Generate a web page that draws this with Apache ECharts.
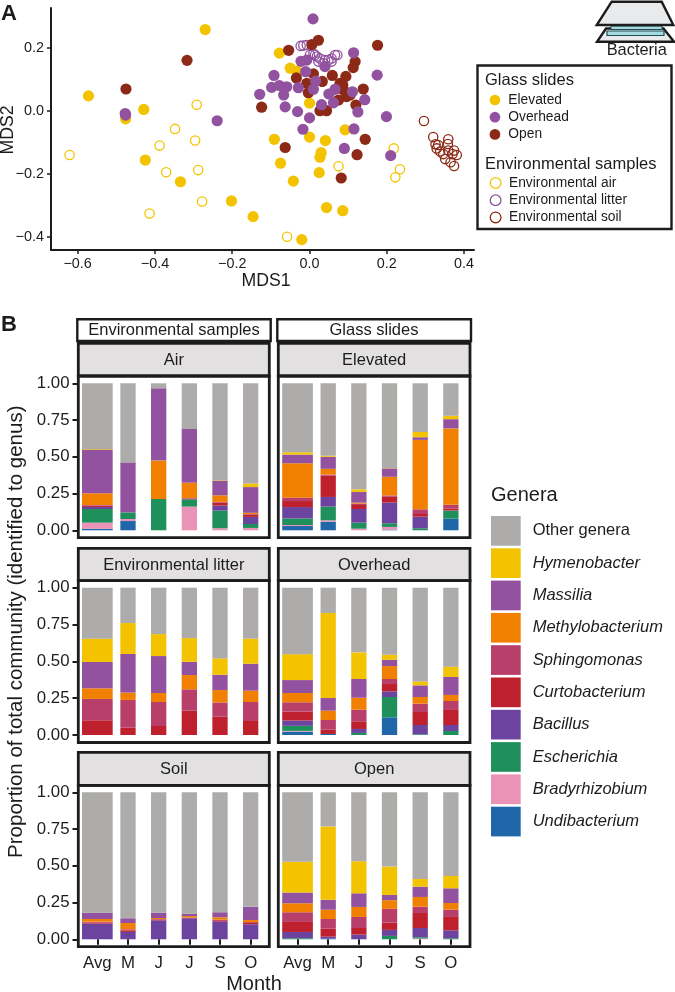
<!DOCTYPE html>
<html><head><meta charset="utf-8">
<style>html,body{margin:0;padding:0;background:#fff}#c{width:675px;height:992px}</style>
<script src="https://cdn.jsdelivr.net/npm/echarts@6/dist/echarts.min.js"></script>
</head><body><div id="c"></div>
<script>
// ---- Panel A values (MDS1, MDS2) ----
const elevated = [[-0.270,0.259],[-0.572,0.048],[-0.429,0.005],[-0.476,-0.025],[-0.425,-0.156],[-0.334,-0.225],[-0.202,-0.286],[-0.146,-0.336],[-0.020,-0.409],[0.044,-0.307],[0.086,-0.317],[-0.078,0.184],[-0.050,0.136],[-0.033,0.127],[0.000,0.025],[0.092,-0.060],[-0.091,-0.090],[0.000,-0.083],[0.041,-0.094],[0.030,-0.132],[0.027,-0.147],[-0.075,-0.166],[0.025,-0.196],[-0.042,-0.223]];
const overhead = [[0.009,0.293],[0.114,0.185],[0.175,0.114],[-0.092,0.113],[-0.022,0.158],[-0.007,0.162],[-0.010,0.125],[0.040,0.141],[-0.098,0.075],[-0.078,0.081],[-0.059,0.077],[-0.067,0.051],[-0.129,0.053],[-0.029,0.074],[0.016,0.095],[0.010,0.069],[0.066,0.069],[0.050,0.054],[0.062,0.026],[0.031,0.020],[0.111,0.061],[0.143,0.036],[0.125,-0.003],[-0.063,0.013],[-0.031,-0.002],[0.000,-0.022],[-0.017,-0.058],[0.115,-0.057],[0.199,-0.018],[-0.477,-0.008],[-0.476,-0.013],[-0.239,-0.031],[0.090,-0.119],[0.210,-0.142]];
const open = [[-0.317,0.161],[-0.475,0.070],[-0.124,0.012],[-0.054,0.193],[0.006,0.211],[0.023,0.225],[0.176,0.209],[0.118,0.157],[0.113,0.138],[-0.034,0.105],[0.010,0.118],[-0.007,0.088],[0.033,0.094],[0.059,0.113],[0.094,0.110],[0.079,0.088],[0.088,0.067],[0.139,0.070],[-0.003,0.058],[0.096,0.046],[0.075,0.035],[0.120,0.019],[0.027,0.001],[0.044,0.001],[0.144,-0.090],[-0.063,-0.116],[0.123,-0.139],[0.082,-0.213],[0.086,0.083],[0.105,0.051]];
const envAir = [[-0.292,0.020],[-0.348,-0.057],[-0.296,-0.094],[-0.388,-0.110],[-0.621,-0.140],[-0.371,-0.195],[-0.288,-0.188],[-0.278,-0.288],[-0.414,-0.326],[-0.058,-0.400],[0.218,-0.119],[0.075,-0.176],[0.234,-0.185],[0.222,-0.211]];
const envLitter = [[-0.016,0.208],[-0.007,0.210],[-0.023,0.207],[0.010,0.183],[0.019,0.173],[0.027,0.167],[0.040,0.162],[0.049,0.162],[0.057,0.167],[0.066,0.178],[0.072,0.178],[0.057,0.157],[0.036,0.152],[0.023,0.157],[0.014,0.178],[0.001,0.178]];
const envSoil = [[0.296,-0.032],[0.320,-0.083],[0.359,-0.090],[0.358,-0.105],[0.326,-0.106],[0.333,-0.108],[0.329,-0.119],[0.359,-0.126],[0.374,-0.126],[0.370,-0.137],[0.381,-0.140],[0.346,-0.137],[0.351,-0.153],[0.365,-0.163],[0.374,-0.175],[0.338,-0.129]];

// ---- Panel B values ----
const months = ['Avg','M','J','J ','S','O'];
const genera = ['Undibacterium','Bradyrhizobium','Escherichia','Bacillus','Curtobacterium','Sphingomonas','Methylobacterium','Massilia','Hymenobacter','Other genera'];
const generaColors = ['#1f67a9','#ea93b6','#1f8f5b','#6c44a0','#be202e','#b73f69','#f28000','#92529f','#f4c300','#adacaa'];
const legendOrder = ['Other genera','Hymenobacter','Massilia','Methylobacterium','Sphingomonas','Curtobacterium','Bacillus','Escherichia','Bradyrhizobium','Undibacterium'];
// each row is one bar (Avg,M,J,J,S,O), columns follow `genera`
const air = [
 [.011,.041,.093,.014,.009,.004,.080,.297,.004,.447],
 [.063,.014,.045,0,0,0,0,.340,0,.538],
 [0,0,.213,0,0,0,.261,.492,0,.034],
 [0,.161,.050,0,.005,.004,.104,.365,0,.311],
 [0,.014,.120,.034,.020,.005,.045,.100,.003,.659],
 [0,.016,.027,.048,.014,.005,.009,.175,.025,.681]];
const litter = [
 [0,0,0,0,.100,.145,.072,.179,.158,.346],
 [0,0,0,0,.050,.188,.050,.262,.210,.240],
 [0,0,0,0,.061,.163,.061,.251,.149,.315],
 [0,0,0,0,.165,.145,.097,.090,.161,.342],
 [0,0,0,0,.124,.097,.084,.104,.111,.480],
 [0,0,0,0,.095,.129,.077,.183,.170,.346]];
const soil = [
 [0,0,0,.107,.008,.005,.018,.043,0,.819],
 [0,0,0,.050,.011,.007,.043,.032,0,.857],
 [0,0,0,.129,.005,.004,.007,.036,0,.819],
 [0,0,0,.143,.003,.003,.009,.016,0,.826],
 [0,0,0,.120,.005,.009,.016,.034,0,.816],
 [0,0,0,.102,.009,.006,.014,.090,0,.779]];
const elevatedBars = [
 [.029,.007,.045,.077,.041,.023,.234,.059,.016,.469],
 [.059,.009,.093,.066,.145,.007,.039,.082,.007,.493],
 [0,.011,.041,.093,.027,.009,.007,.073,.018,.721],
 [.005,.018,.025,.141,.039,.009,.127,.057,.002,.579],
 [0,0,.014,.079,.018,.032,.472,.018,.036,.331],
 [.079,0,.054,.002,.014,.025,.519,.063,.023,.221]];
const overheadBars = [
 [.023,.005,.034,.036,.061,.063,.063,.088,.176,.451],
 [.007,0,0,0,.029,.066,.063,.086,.577,.172],
 [0,0,.014,.027,.052,.079,.081,.127,.181,.439],
 [.120,0,.138,.038,.050,.034,.088,.043,.034,.455],
 [0,0,.005,.063,.088,.057,.045,.079,.027,.636],
 [0,0,.027,.041,.102,.061,.041,.122,.070,.536]];
const openBars = [
 [0,0,.007,.043,.068,.066,.061,.073,.209,.473],
 [.004,0,0,.014,.054,.066,.063,.068,.499,.232],
 [0,0,0,.032,.045,.075,.068,.093,.218,.469],
 [0,0,.023,.041,.050,.093,.059,.036,.193,.505],
 [0,.005,.009,.063,.102,.043,.066,.070,.052,.590],
 [0,0,.007,.054,.091,.050,.045,.100,.084,.569]];

const panelTitles = ['Air','Environmental litter','Soil','Elevated','Overhead','Open'];
const panelValues = [air,litter,soil,elevatedBars,overheadBars,openBars];
const mdsXTicks = [-0.6,-0.4,-0.2,0,0.2,0.4];
const mdsYTicks = [-0.4,-0.2,0,0.2];

// ---- Layout ----
const FONT = '"Liberation Sans", Arial, sans-serif';
const INK = '#1c1c1c';
const colX = [{frame:[78.3,269.3],grid:82},{frame:[278.3,470],grid:282.2}];
const rows = [{top:343.3,strip:376,bottom:537.7,gridTop:383.3,h:147},
              {top:548.3,strip:580.7,bottom:742.5,gridTop:587.7,h:147.3},
              {top:752.3,strip:785.3,bottom:946.7,gridTop:792.3,h:147}];
const COLOR = {elevated:'#f4c300',overhead:'#92529f',open:'#8c2a17'};

const grids=[{left:51,top:8,width:423,height:242,outerBoundsMode:'none'}];
const xAxes=[{gridIndex:0,type:'value',min:-0.669,max:0.4256,splitLine:{show:false},
  axisLine:{onZero:false,lineStyle:{color:INK,width:2}},axisTick:{length:4,customValues:mdsXTicks,lineStyle:{color:INK,width:1.5}},
  axisLabel:{fontFamily:FONT,fontSize:14.4,color:INK,margin:7,customValues:mdsXTicks,formatter:v=>v.toFixed(1).replace('-','\u2212')},
  name:'MDS1',nameLocation:'middle',nameGap:22,nameTextStyle:{fontFamily:FONT,fontSize:17.7,color:INK,padding:[0,0,0,7]}}];
const yAxes=[{gridIndex:0,type:'value',min:-0.442,max:0.3275,splitLine:{show:false},
  axisLine:{onZero:false,lineStyle:{color:INK,width:2}},axisTick:{length:4,customValues:mdsYTicks,lineStyle:{color:INK,width:1.5}},
  axisLabel:{fontFamily:FONT,fontSize:14.4,color:INK,margin:7,customValues:mdsYTicks,formatter:v=>v.toFixed(1).replace('-','\u2212')}}];

const filled=(name,data,color,z)=>({name,type:'scatter',data,symbol:'circle',symbolSize:11.2,xAxisIndex:0,yAxisIndex:0,z,silent:true,itemStyle:{color,opacity:1}});
const hollow=(name,data,color,z)=>({name,type:'scatter',data,symbol:'circle',symbolSize:9.3,xAxisIndex:0,yAxisIndex:0,z,silent:true,itemStyle:{color:'rgba(255,255,255,0)',borderColor:color,borderWidth:1.3,opacity:1}});
const series=[
 filled('Elevated',elevated,COLOR.elevated,3),
 hollow('Environmental air',envAir,COLOR.elevated,3),
 hollow('Environmental soil',envSoil,COLOR.open,3),
 hollow('Environmental litter',envLitter,COLOR.overhead,3),
 filled('Open',open,COLOR.open,4),
 filled('Overhead',overhead,COLOR.overhead,5),
];

const g=[];
const rect=(x0,y0,x1,y1,fill,stroke,lw,z)=>({type:'rect',shape:{x:x0,y:y0,width:x1-x0,height:y1-y0},style:{fill:fill||'none',stroke:stroke||null,lineWidth:lw||0},z:z||1,silent:true});
const txt=(s,x,y,size,o)=>Object.assign({type:'text',x,y,z:20,silent:true,style:Object.assign({text:s,fill:INK,font:`${size}px ${FONT}`,textAlign:'center',textVerticalAlign:'middle'},o&&o.style||{})},o&&o.el||{});

panelValues.forEach((vals,i)=>{
  const c=Math.floor(i/3), r=i%3, col=colX[c], row=rows[r];
  const gi=grids.length;
  grids.push({left:col.grid,width:184,top:row.gridTop,height:row.h,outerBoundsMode:'none'});
  const mainX=xAxes.length, avgX=mainX+1, yi=yAxes.length;
  const bottomRow=r===2, leftCol=c===0;
  xAxes.push({gridIndex:gi,type:'category',data:months,offset:7.4,
    axisLine:{show:false},axisTick:{show:bottomRow,alignWithLabel:true,length:5.5,lineStyle:{color:INK,width:2}},
    axisLabel:{show:bottomRow,interval:0,fontFamily:FONT,fontSize:16.8,color:INK,margin:8.5,formatter:v=>v.trim()}});
  xAxes.push({gridIndex:gi,type:'category',data:months,show:false});
  yAxes.push({gridIndex:gi,type:'value',min:0,max:1,interval:0.25,offset:4,splitLine:{show:false},
    axisLine:{show:false},axisTick:{show:leftCol,length:5.5,lineStyle:{color:INK,width:2}},
    axisLabel:{show:leftCol,fontFamily:FONT,fontSize:16.8,color:INK,margin:8.5,formatter:v=>v.toFixed(2)}});
  genera.forEach((name,k)=>{
    const col_k=vals.map(b=>b[k]);
    const base={name,type:'bar',yAxisIndex:yi,silent:true,itemStyle:{color:generaColors[k]},z:2};
    series.push(Object.assign({},base,{xAxisIndex:avgX,stack:'a'+i,barWidth:30.7,data:col_k.map((v,m)=>m===0?v:'-')}));
    series.push(Object.assign({},base,{xAxisIndex:mainX,stack:'m'+i,barWidth:15.3,data:col_k.map((v,m)=>m===0?'-':v)}));
  });
  g.push(rect(col.frame[0],row.top,col.frame[1],row.strip,'#e2e0e1',null,0,1));
  g.push(rect(col.frame[0],row.top,col.frame[1],row.strip,null,INK,2.8,10));
  g.push(rect(col.frame[0],row.strip,col.frame[1],row.bottom,null,INK,2.8,10));
  g.push(txt(panelTitles[i],(col.frame[0]+col.frame[1])/2,(row.top+row.strip)/2+1,16.5));
});

// facet headers
g.push(rect(77.3,319.3,270.7,341,'#fff',INK,2.4,10));
g.push(rect(277.3,319.3,471,341,'#fff',INK,2.4,10));
g.push(txt('Environmental samples',174,330.5,16.5));
g.push(txt('Glass slides',374,330.5,16.5));
// panel letters and shared axis titles
g.push(txt('A',9,14,22,{style:{font:`bold 22px ${FONT}`}}));
g.push(txt('B',9,325,22,{style:{font:`bold 22px ${FONT}`}}));
g.push(txt('MDS2',8.5,130,17.7,{el:{rotation:Math.PI/2}}));
g.push(txt('Proportion of total community (identified to genus)',16,631.7,20.5,{el:{rotation:Math.PI/2}}));
g.push(txt('Month',254,984,20));
g.push(txt('Genera',491,495,20,{style:{textAlign:'left'}}));
// scatter legend box
g.push(rect(477.5,65.5,671.5,229,'#fff',INK,2.4,0));
g.push(txt('Glass slides',485,80,16.5,{style:{textAlign:'left'}}));
g.push(txt('Environmental samples',485,164,16.5,{style:{textAlign:'left'}}));
// slide icon
const poly=(pts,fill,stroke,lw,z)=>({type:'polygon',shape:{points:pts},style:{fill,stroke,lineWidth:lw,lineJoin:'miter'},z:z||3,silent:true});
g.push(poly([[606,28.5],[663.5,28.5],[674,41.7],[597,41.7]],'#e9eaeb',INK,2.4,3));
g.push(rect(607,31,664,35.5,'#a4d9e0','#1f4f55',1.2,4));
g.push(poly([[611.7,1.7],[661.7,1.7],[673.3,25],[596.7,25]],'#e9eaeb',INK,2.4,5));
g.push(rect(611,26,662,29.5,'#a4d9e0','#1f4f55',1,4));
g.push(txt('Bacteria',636.7,50.5,16.4));

const legBase={orient:'vertical',selectedMode:false,backgroundColor:'transparent',padding:0,icon:'circle',itemWidth:10.7,itemHeight:10.7,itemGap:3.2};
const option={
 animation:false,backgroundColor:'#fff',
 textStyle:{fontFamily:FONT},
 grid:grids,xAxis:xAxes,yAxis:yAxes,series,
 legend:[
  Object.assign({},legBase,{left:489.6,top:93,data:['Elevated','Overhead','Open'],textStyle:{fontFamily:FONT,fontSize:13.8,color:INK,padding:[0,0,0,3]}}),
  Object.assign({},legBase,{left:489.6,top:176,data:['Environmental air','Environmental litter','Environmental soil'],itemStyle:{borderWidth:1.3},textStyle:{fontFamily:FONT,fontSize:13.8,color:INK,padding:[0,0,0,3]}}),
  {orient:'vertical',selectedMode:false,padding:0,left:491,top:516,icon:'rect',itemWidth:29.7,itemHeight:29.7,itemGap:2.6,
   data:legendOrder.map(n=>({name:n,textStyle:n==='Other genera'?{fontStyle:'normal'}:{fontStyle:'italic'}})),
   textStyle:{fontFamily:FONT,fontSize:16.5,color:INK,padding:[0,0,0,7]}}
 ],
 graphic:{elements:g}
};
echarts.init(document.getElementById('c'),null,{renderer:'canvas'}).setOption(option);
</script></body></html>
